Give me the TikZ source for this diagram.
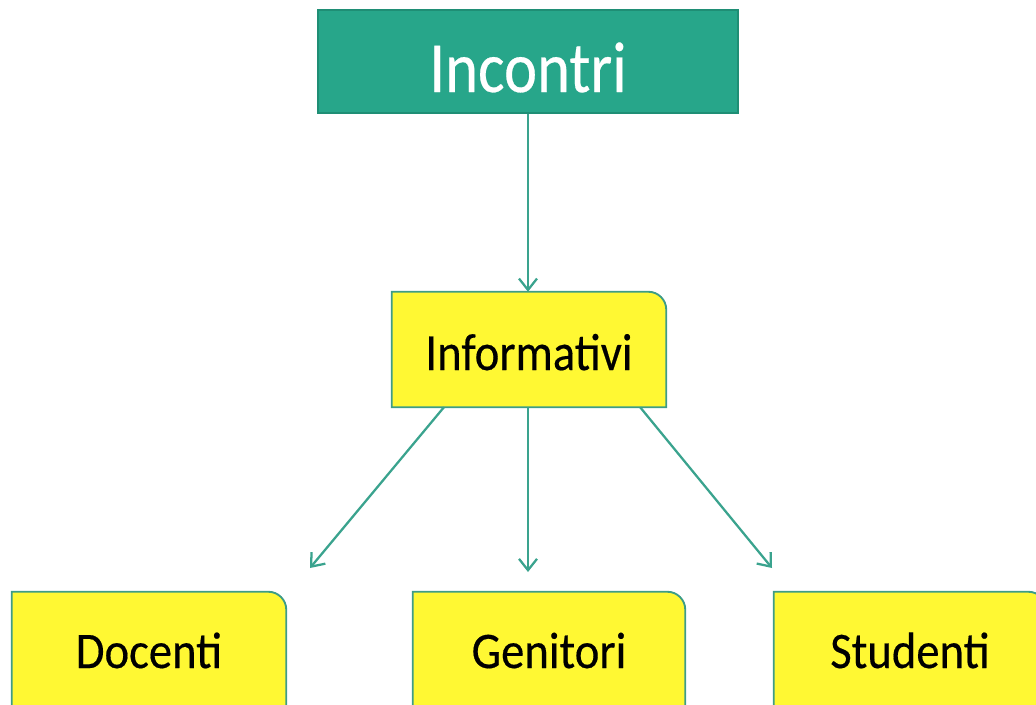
\documentclass[tikz,border=0pt]{standalone}
\usepackage{fontspec}
\usepackage{graphicx}
\setmainfont{Carlito}
\newfontfamily\boxfont[FakeBold=0.35]{Carlito}
\usetikzlibrary{arrows.meta,backgrounds,calc}
\definecolor{tealfill}{HTML}{27A68A}
\definecolor{tealborder}{HTML}{1F8E75}
\definecolor{yfill}{HTML}{FFF833}
\definecolor{yborder}{HTML}{3D9C87}
\definecolor{arrowc}{HTML}{3AA38E}
\newcommand\yshape[1]{%
  \filldraw[fill=yfill,draw=yborder,line width=1.4pt]
    (#1.south west) -- (#1.north west) -- ($(#1.north east)+(-18,0)$)
    arc[start angle=90,end angle=0,radius=13.5pt] -- (#1.south east) -- cycle;}
\begin{document}
\begin{tikzpicture}[x=0.75pt,y=-0.75pt,
  topbox/.style={minimum width=315pt,minimum height=77.25pt,inner sep=0pt,
    text height=45.8pt,text depth=0pt,font=\boxfont\fontsize{47}{47}\selectfont,
    text=white,fill=tealfill,draw=tealborder,line width=0.8pt},
  ybox/.style={minimum height=86.25pt,inner sep=0pt,text depth=0pt,
    font=\boxfont\fontsize{35}{35}\selectfont,text=black},
  conn/.style={draw=arrowc,line width=1.7pt,-{Straight Barb[length=8.5pt,width=13.5pt]}}]
\useasboundingbox (0,0) rectangle (1036,704);
\clip (0,0) rectangle (1036,704);

\node[topbox] (inc) at (528,61.5) {\scalebox{1}[1.15]{Incontri}};
\node[ybox,minimum width=205.5pt,text height=30.8pt] (inf) at (529,349.5) {\scalebox{1}[1.12]{Informativi}};
\node[ybox,minimum width=205.5pt,text height=27.8pt] (doc) at (149,649.5) {\scalebox{1}[1.1]{Docenti}};
\node[ybox,minimum width=204pt,text height=27.8pt] (gen) at (549,649.5) {\scalebox{1}[1.1]{Genitori}};
\node[ybox,minimum width=204pt,text height=27.8pt] (stu) at (910,649.5) {\scalebox{1}[1.1]{Studenti}};

\begin{scope}[on background layer]
  \yshape{inf}
  \yshape{doc}
  \yshape{gen}
  \yshape{stu}
\end{scope}

\coordinate (dl) at (310,568);
\coordinate (dm) at (528,572);
\coordinate (dr) at (772,568);

\draw[conn] (inc.south) -- (inc.south |- inf.north);
\draw[conn] ($(inf.south west)!0.19!(inf.south east)$) -- (dl);
\draw[conn] (inf.south -| dm) -- (dm);
\draw[conn] ($(inf.south west)!0.905!(inf.south east)$) -- (dr);
\end{tikzpicture}
\end{document}
